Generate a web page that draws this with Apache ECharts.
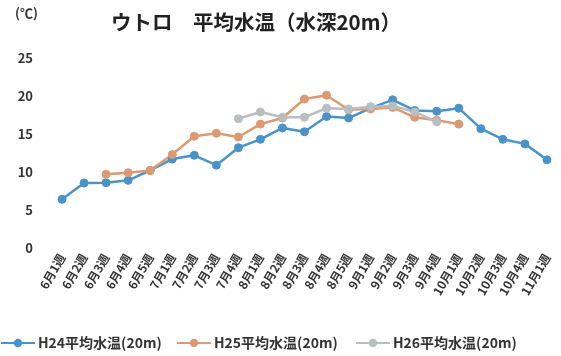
<!DOCTYPE html>
<html>
<head>
<meta charset="utf-8">
<script src="https://cdn.jsdelivr.net/npm/echarts@6/dist/echarts.min.js"></script>
<style>
  html, body { margin: 0; padding: 0; background: #fff; }
  #chart { width: 561px; height: 356px; }
</style>
</head>
<body>
<div id="chart"></div>
<script>
// Weekly categories, June week 1 through November week 1
const weeks = [
  '6月1週', '6月2週', '6月3週', '6月4週', '6月5週',
  '7月1週', '7月2週', '7月3週', '7月4週',
  '8月1週', '8月2週', '8月3週', '8月4週', '8月5週',
  '9月1週', '9月2週', '9月3週', '9月4週',
  '10月1週', '10月2週', '10月3週', '10月4週',
  '11月1週'
];

// Mean water temperature at 20 m depth (°C); null = no measurement
const h24 = [6.4, 8.55, 8.6, 8.9, 10.2, 11.7, 12.2, 10.9, 13.2, 14.3, 15.8, 15.3,
             17.3, 17.1, 18.4, 19.5, 18.1, 18.0, 18.4, 15.7, 14.3, 13.7, 11.6];
const h25 = [null, null, 9.7, 9.9, 10.2, 12.3, 14.7, 15.1, 14.6, 16.3, 17.1, 19.6,
             20.1, 18.2, 18.3, 18.5, 17.2, 16.8, 16.3, null, null, null, null];
const h26 = [null, null, null, null, null, null, null, null, 17.0, 17.9, 17.2, 17.2,
             18.4, 18.3, 18.6, 18.7, 17.9, 16.6, null, null, null, null, null];

const yTicks = { min: 0, max: 25, step: 5 };

const names = ['H24平均水温(20m)', 'H25平均水温(20m)', 'H26平均水温(20m)'];
const colors = ['#4a93c8', '#dc9a70', '#b9bec2'];
const font = '"Noto Sans CJK JP", "Noto Sans", sans-serif';

function line(name, data, color) {
  return {
    name: name,
    type: 'line',
    data: data,
    connectNulls: false,
    symbol: 'circle',
    symbolSize: 8,
    lineStyle: { color: color, width: 2.5 },
    itemStyle: { color: color, borderColor: color, borderWidth: 1 },
    emphasis: { disabled: true }
  };
}

function legendAt(left, name) {
  return {
    data: [name],
    left: left,
    top: 336,
    padding: 0,
    itemWidth: 34,
    itemHeight: 8,
    itemGap: 4,
    textStyle: { fontFamily: font, fontSize: 14, fontWeight: 'bold', color: '#333', padding: [0, 0, 0, -2] }
  };
}

const chart = echarts.init(document.getElementById('chart'), null, { renderer: 'canvas' });
chart.setOption({
  animation: false,
  backgroundColor: '#fff',
  title: {
    text: 'ウトロ　平均水温（水深20m）',
    left: 106,
    top: 7,
    textStyle: { fontFamily: font, fontSize: 20.5, fontWeight: 'bold', color: '#222' }
  },
  graphic: [{
    type: 'text',
    left: 15,
    top: 7,
    style: { text: '(℃)', font: 'bold 13px ' + font, fill: '#333' }
  }],
  legend: [legendAt(0, names[0]), legendAt(176, names[1]), legendAt(355, names[2])],
  grid: { left: 51, right: 3, top: 58, height: 190, containLabel: false },
  xAxis: {
    type: 'category',
    data: weeks,
    boundaryGap: true,
    axisLine: { show: false },
    axisTick: { show: false },
    axisLabel: {
      rotate: 60,
      interval: 0,
      margin: 7,
      fontFamily: font,
      fontSize: 12,
      fontWeight: 'bold',
      color: '#333'
    }
  },
  yAxis: {
    type: 'value',
    min: yTicks.min,
    max: yTicks.max,
    interval: yTicks.step,
    splitLine: { show: false },
    axisLine: { show: false },
    axisTick: { show: false },
    axisLabel: {
      margin: 18,
      fontFamily: font,
      fontSize: 13,
      fontWeight: 'bold',
      color: '#333'
    }
  },
  series: [
    line(names[0], h24, colors[0]),
    line(names[1], h25, colors[1]),
    line(names[2], h26, colors[2])
  ]
});
</script>
</body>
</html>
